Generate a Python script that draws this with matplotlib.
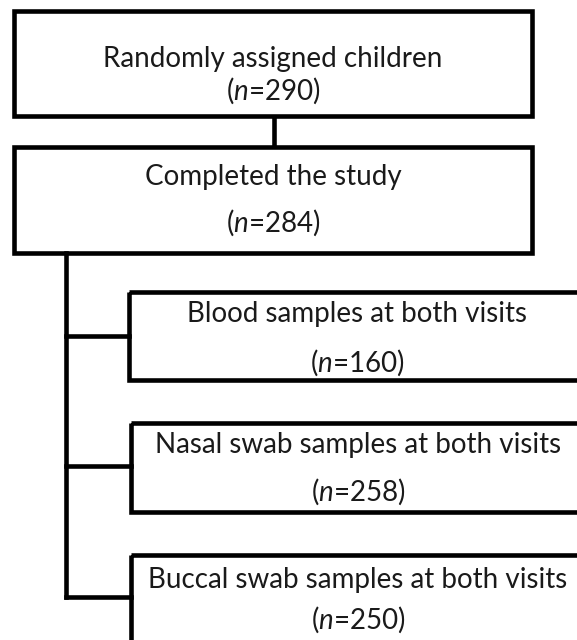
import matplotlib
matplotlib.use("Agg")
import matplotlib.pyplot as plt
from matplotlib.patches import Rectangle

plt.rcParams['font.family'] = ['Lato', 'DejaVu Sans']
plt.rcParams['mathtext.fontset'] = 'custom'
plt.rcParams['mathtext.rm'] = 'Lato'
plt.rcParams['mathtext.it'] = 'Lato:italic'

# Data
labels = ["Randomly assigned children", "Completed the study",
          "Blood samples at both visits", "Nasal swab samples at both visits",
          "Buccal swab samples at both visits"]
counts = [290, 284, 160, 258, 250]

# Layout (pixel coordinates, y downward)
W, H = 577, 640
boxes = [  # x0, x1, y0, y1, baseline line1, baseline line2
    (14, 532, 10.5, 116, 67, 100),
    (14, 532, 146.5, 252.5, 185, 232),
    (129, 585, 292, 380, 322, 372),
    (131, 585, 423, 512, 453, 501),
    (131, 585, 555, 700, 588, 629),
]
lw = 3.3
fs = 20

fig = plt.figure(figsize=(W / 100, H / 100), dpi=100)
ax = fig.add_axes([0, 0, 1, 1])
ax.set_xlim(0, W)
ax.set_ylim(H, 0)
ax.axis('off')

for (x0, x1, y0, y1, t1, t2), lab, n in zip(boxes, labels, counts):
    ax.add_patch(Rectangle((x0, y0), x1 - x0, y1 - y0, fill=False,
                           edgecolor='black', linewidth=lw, joinstyle='miter'))
    cx = (x0 + x1) / 2
    ax.text(cx, t1, lab, ha='center', va='baseline', fontsize=fs, color='#1a1a1a')
    ax.text(cx, t2, f"($n$={n})", ha='center', va='baseline', fontsize=fs, color='#1a1a1a')

# connectors
ax.plot([274, 274], [116, 146.5], color='black', lw=lw, solid_capstyle='butt')
trunk_x = 66
ax.plot([trunk_x, trunk_x], [252.5, 597], color='black', lw=lw,
        solid_capstyle='projecting', solid_joinstyle='miter')
for y, bx in [(336, 129), (466, 131), (597, 131)]:
    ax.plot([trunk_x, bx], [y, y], color='black', lw=lw, solid_capstyle='projecting')

fig.savefig("out.png", dpi=100, facecolor='white')
